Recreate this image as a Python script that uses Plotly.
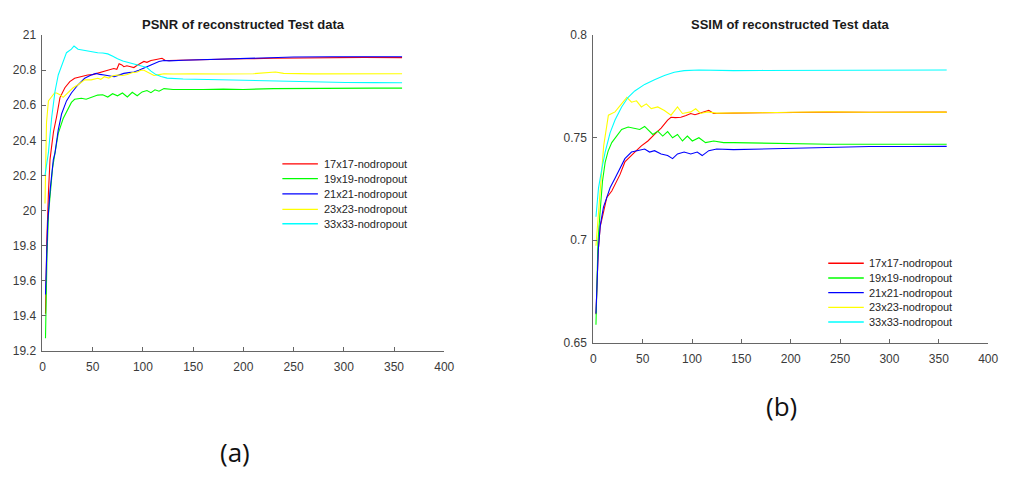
import plotly.graph_objects as go

# ---------------- PSNR of reconstructed test data (epochs vs dB) ----------------
psnr_17_x = [3, 4.3, 6, 7.5, 9.2, 11, 14, 17.4, 22.3, 27.2, 32, 38.7, 45, 50, 55, 60, 65, 71, 74,
             76.3, 79, 81, 84, 87.8, 91, 94.3, 97, 101, 104, 108, 112, 116, 119, 122, 126, 135,
             150, 175, 200, 230, 260, 290, 320, 358]
psnr_17_y = [19.41, 19.83, 20.11, 20.29, 20.37, 20.45, 20.533, 20.644, 20.70, 20.735, 20.754, 20.763,
             20.773, 20.775, 20.782, 20.79, 20.80, 20.81, 20.805, 20.837, 20.83, 20.82, 20.825,
             20.82, 20.815, 20.828, 20.835, 20.85, 20.845, 20.855, 20.86, 20.865, 20.868, 20.857,
             20.855, 20.857, 20.858, 20.862, 20.865, 20.868, 20.87, 20.872, 20.873, 20.872]

psnr_19_x = [3, 4.5, 6, 8, 10, 12.5, 15.7, 20.6, 25.5, 28.8, 32, 38.7, 43.5, 48.5, 52, 55, 60, 65,
             69.8, 74.7, 79.6, 84.5, 89.4, 94.3, 99.2, 104, 108, 112, 116, 121, 130, 145, 160, 180,
             200, 230, 260, 300, 330, 358]
psnr_19_y = [19.27, 19.75, 19.98, 20.12, 20.24, 20.33, 20.44, 20.524, 20.58, 20.616, 20.634, 20.64,
             20.634, 20.645, 20.655, 20.658, 20.66, 20.647, 20.666, 20.654, 20.67, 20.647, 20.674,
             20.654, 20.676, 20.684, 20.672, 20.688, 20.68, 20.695, 20.69, 20.692, 20.69, 20.692,
             20.69, 20.695, 20.697, 20.698, 20.698, 20.698]

psnr_21_x = [3, 4, 5.2, 7.5, 10.8, 12.5, 14, 15.7, 19, 23.9, 28.8, 35.4, 42, 48.5, 53.4, 57, 61.6,
             66, 71.4, 76, 81, 86, 91, 96, 101, 104, 108, 112, 116, 121, 126, 140, 157, 190, 223,
             250, 288, 320, 358]
psnr_21_y = [19.52, 19.78, 19.93, 20.11, 20.29, 20.33, 20.39, 20.46, 20.55, 20.625, 20.67, 20.717,
             20.754, 20.773, 20.782, 20.776, 20.773, 20.768, 20.763, 20.772, 20.782, 20.786, 20.79,
             20.80, 20.81, 20.82, 20.83, 20.84, 20.85, 20.855, 20.853, 20.857, 20.86, 20.866,
             20.872, 20.875, 20.877, 20.877, 20.877]

psnr_23_x = [2.5, 3, 4, 5.9, 9.2, 12, 14, 17.4, 20.6, 25.5, 30.5, 35.4, 42, 48.5, 55, 58, 61.6, 66,
             70, 74.7, 80, 84.5, 89, 94.3, 98, 101, 104, 108, 111, 116, 121, 130, 150, 180, 210,
             232, 240, 270, 300, 330, 358]
psnr_23_y = [20.04, 20.3, 20.5, 20.625, 20.652, 20.67, 20.67, 20.66, 20.645, 20.67, 20.70, 20.717,
             20.745, 20.745, 20.754, 20.748, 20.763, 20.755, 20.768, 20.773, 20.77, 20.775, 20.785,
             20.79, 20.80, 20.80, 20.79, 20.78, 20.77, 20.775, 20.78, 20.778, 20.78, 20.778, 20.78,
             20.79, 20.782, 20.779, 20.78, 20.778, 20.78]

psnr_33_x = [2.5, 4, 5.9, 9.2, 12.5, 15.7, 20.6, 23.9, 28.8, 31.4, 35.4, 40, 45, 50, 55, 60, 65,
             70, 74.7, 80, 84.5, 90, 94.3, 100, 104, 108, 113, 118, 124, 140, 170, 200, 236, 270,
             302, 330, 358]
psnr_33_y = [20.2, 20.25, 20.33, 20.533, 20.68, 20.773, 20.855, 20.90, 20.92, 20.938, 20.92, 20.915,
             20.91, 20.905, 20.90, 20.898, 20.893, 20.88, 20.865, 20.853, 20.846, 20.84, 20.832,
             20.825, 20.815, 20.795, 20.775, 20.764, 20.755, 20.75, 20.746, 20.742, 20.737, 20.734,
             20.73, 20.729, 20.728]

# ---------------- SSIM of reconstructed test data ----------------
ssim_17_x = [2.7, 5, 7, 10.3, 13.7, 18.7, 22, 27, 32, 35.3, 39, 42, 48.7, 55.3, 62, 68.7, 75.3,
             78.7, 83, 88.7, 94, 98.7, 103, 108.7, 113, 117, 122, 130, 142, 170, 200, 240, 280,
             320, 358]
ssim_17_y = [0.664, 0.695, 0.7067, 0.7146, 0.7209, 0.724, 0.7272, 0.732, 0.7382, 0.7398, 0.742,
             0.743, 0.746, 0.7484, 0.7516, 0.7547, 0.7586, 0.760, 0.7598, 0.760, 0.7608, 0.7618,
             0.7612, 0.762, 0.7625, 0.7633, 0.7618, 0.762, 0.762, 0.7622, 0.7624, 0.7625, 0.7624,
             0.7625, 0.7625]

ssim_19_x = [2.7, 4.7, 7, 9.3, 12, 15, 18.7, 23.7, 28.7, 35.3, 42, 47, 52, 55, 60.3, 65.3, 70.3,
             75.3, 80.3, 85.3, 90.3, 95.3, 100.3, 107, 113.7, 122, 132, 142, 170, 200, 240, 280,
             320, 358]
ssim_19_y = [0.6588, 0.699, 0.7146, 0.7288, 0.738, 0.7435, 0.7476, 0.7508, 0.754, 0.7552, 0.7547,
             0.754, 0.7555, 0.754, 0.7516, 0.7532, 0.7508, 0.753, 0.75, 0.7516, 0.7484, 0.7508,
             0.7484, 0.75, 0.7476, 0.7484, 0.7476, 0.7476, 0.7474, 0.747, 0.7468, 0.7468, 0.7468,
             0.7468]

ssim_21_x = [2.7, 5, 7, 10.3, 13.7, 17, 22, 25.3, 28.7, 32, 38.7, 45.3, 52, 57, 62, 68.7, 75.3,
             80.3, 85.3, 92, 98.7, 105.3, 110.3, 117, 125, 142, 170, 200, 240, 280, 320, 358]
ssim_21_y = [0.6643, 0.695, 0.707, 0.7162, 0.7209, 0.7256, 0.7303, 0.7335, 0.736, 0.7398, 0.743,
             0.7437, 0.7445, 0.743, 0.7437, 0.7421, 0.7413, 0.7398, 0.7421, 0.743, 0.7421, 0.743,
             0.7413, 0.7437, 0.7445, 0.7442, 0.7445, 0.745, 0.7455, 0.7457, 0.7457, 0.7458]

ssim_23_x = [2.7, 5, 7, 8.7, 10.5, 12, 15.3, 22, 27, 32, 34, 38.7, 43.7, 48.7, 53.7, 58.7, 65.3,
             72, 78.7, 85.3, 90.3, 98.7, 103.7, 108.7, 115.3, 125, 142, 170, 200, 240, 280, 320,
             358]
ssim_23_y = [0.6973, 0.712, 0.7225, 0.738, 0.746, 0.7508, 0.761, 0.7626, 0.7657, 0.7689, 0.7697,
             0.7673, 0.768, 0.765, 0.7665, 0.7642, 0.765, 0.7633, 0.761, 0.765, 0.7618, 0.7626,
             0.7641, 0.7618, 0.7626, 0.762, 0.762, 0.7622, 0.7624, 0.7626, 0.7624, 0.7625, 0.7625]

ssim_33_x = [2.7, 5.3, 8.7, 12, 17, 22, 28.7, 35.3, 42, 52, 62, 72, 82, 92, 107, 125, 142, 170,
             200, 240, 280, 320, 358]
ssim_33_y = [0.7115, 0.7256, 0.735, 0.743, 0.7524, 0.7586, 0.765, 0.7697, 0.7728, 0.776, 0.7783,
             0.7803, 0.7819, 0.7827, 0.783, 0.7827, 0.7827, 0.7828, 0.7828, 0.7829, 0.783, 0.783,
             0.783]

series_names = ["17x17-nodropout", "19x19-nodropout", "21x21-nodropout",
                "23x23-nodropout", "33x33-nodropout"]
series_colors = ["#ff0000", "#00ff00", "#0000ff", "#ffff00", "#00ffff"]

psnr_series = [(psnr_17_x, psnr_17_y), (psnr_19_x, psnr_19_y), (psnr_21_x, psnr_21_y),
               (psnr_23_x, psnr_23_y), (psnr_33_x, psnr_33_y)]
ssim_series = [(ssim_17_x, ssim_17_y), (ssim_19_x, ssim_19_y), (ssim_21_x, ssim_21_y),
               (ssim_23_x, ssim_23_y), (ssim_33_x, ssim_33_y)]

psnr_ticks = [19.2, 19.4, 19.6, 19.8, 20, 20.2, 20.4, 20.6, 20.8, 21]
psnr_tick_text = ["19.2", "19.4", "19.6", "19.8", "20", "20.2", "20.4", "20.6", "20.8", "21"]
ssim_ticks = [0.65, 0.7, 0.75, 0.8]
ssim_tick_text = ["0.65", "0.7", "0.75", "0.8"]
epoch_ticks = [0, 50, 100, 150, 200, 250, 300, 350, 400]

W, H = 1010, 478
fig = go.Figure()

for (xs, ys), name, col in zip(psnr_series, series_names, series_colors):
    fig.add_trace(go.Scatter(x=xs, y=ys, mode="lines", name=name, showlegend=False,
                             line=dict(color=col, width=1.1), xaxis="x", yaxis="y"))
for (xs, ys), name, col in zip(ssim_series, series_names, series_colors):
    fig.add_trace(go.Scatter(x=xs, y=ys, mode="lines", name=name, showlegend=False,
                             line=dict(color=col, width=1.1), xaxis="x2", yaxis="y2"))

tick_font = dict(family="Liberation Sans, Arial, sans-serif", size=12, color="#3a3a3a")
axis_common = dict(showline=True, linecolor="#666666", linewidth=1, ticks="inside",
                   ticklen=4, tickcolor="#666666", showgrid=False, zeroline=False,
                   tickfont=tick_font, mirror=False, fixedrange=True)


def px_x(p):
    return p / W


def px_y(p):
    return 1 - p / H


fig.update_layout(
    width=W, height=H,
    margin=dict(l=0, r=0, t=0, b=0),
    paper_bgcolor="white", plot_bgcolor="white",
    showlegend=False,
    xaxis=dict(domain=[px_x(40), px_x(447)], range=[0, 400], tickvals=epoch_ticks,
               anchor="y", ticklabelstandoff=5, **axis_common),
    yaxis=dict(domain=[px_y(354), px_y(29)], range=[19.2, 21], tickvals=psnr_ticks,
               ticktext=psnr_tick_text, anchor="x", ticklabelstandoff=3, **axis_common),
    xaxis2=dict(domain=[px_x(598), px_x(998)], range=[0, 400], tickvals=epoch_ticks,
                anchor="y2", ticklabelstandoff=5, **axis_common),
    yaxis2=dict(domain=[px_y(346), px_y(29)], range=[0.65, 0.8], tickvals=ssim_ticks,
                ticktext=ssim_tick_text, anchor="x2", ticklabelstandoff=3, **axis_common),
)

title_font = dict(family="Liberation Sans, Arial, sans-serif", size=13, color="#1a1a1a")
annotations = [
    dict(text="<b>PSNR of reconstructed Test data</b>", x=px_x(244), y=px_y(18),
         xref="paper", yref="paper", showarrow=False, font=title_font,
         xanchor="center", yanchor="middle"),
    dict(text="<b>SSIM of reconstructed Test data</b>", x=px_x(797), y=px_y(18),
         xref="paper", yref="paper", showarrow=False, font=title_font,
         xanchor="center", yanchor="middle"),
    dict(text="(a)", x=px_x(235), y=px_y(458), xref="paper", yref="paper", showarrow=False,
         font=dict(family="Open Sans, sans-serif", size=26, color="#111111"),
         xanchor="center", yanchor="middle"),
    dict(text="(b)", x=px_x(789), y=px_y(411), xref="paper", yref="paper", showarrow=False,
         font=dict(family="Open Sans, sans-serif", size=26, color="#111111"),
         xanchor="center", yanchor="middle"),
]

# Legend boxes drawn as sample lines plus labels
legend_font = dict(family="Liberation Sans, Arial, sans-serif", size=11, color="#262626")
shapes = []
legend_specs = [
    (283, 319, 323, [161.7, 176.9, 192.6, 208.4, 223.3]),
    (836, 872, 875, [264, 279.2, 294.2, 309.5, 324.5]),
]
for x0, x1, tx, rows in legend_specs:
    for name, col, ry in zip(series_names, series_colors, rows):
        shapes.append(dict(type="line", xref="paper", yref="paper",
                           x0=px_x(x0), x1=px_x(x1), y0=px_y(ry), y1=px_y(ry),
                           line=dict(color=col, width=1.3)))
        annotations.append(dict(text=name, x=px_x(tx), y=px_y(ry), xref="paper", yref="paper",
                                showarrow=False, font=legend_font,
                                xanchor="left", yanchor="middle"))

fig.update_layout(annotations=annotations, shapes=shapes)

fig.write_html("out.html")
